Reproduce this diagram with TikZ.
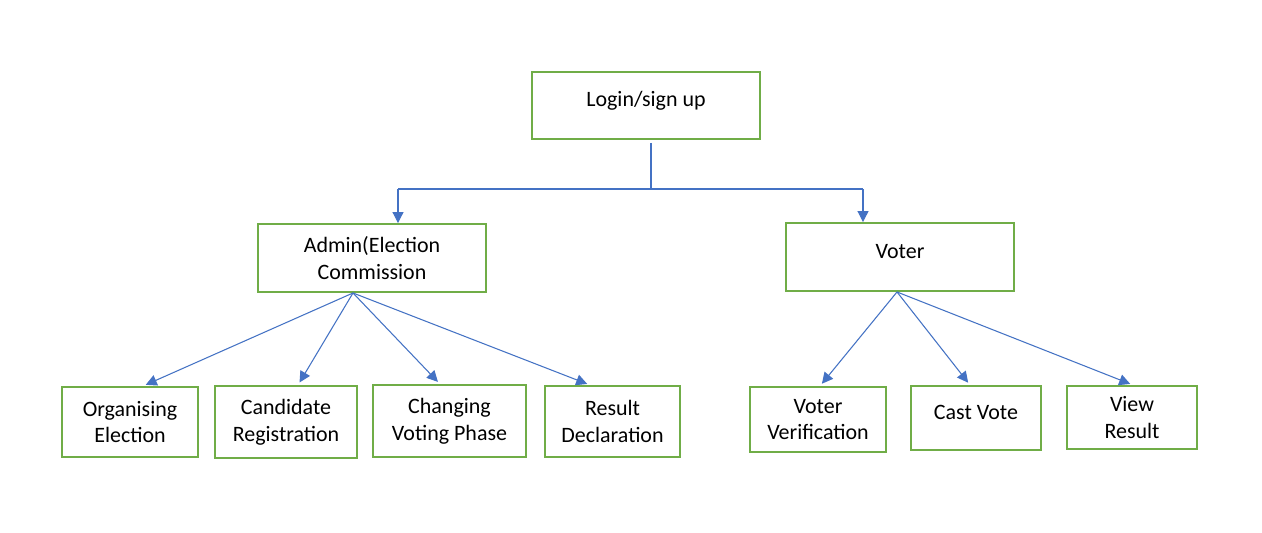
\documentclass[tikz,border=0pt]{standalone}
\usepackage{fontspec}
\setmainfont{Carlito}
\usetikzlibrary{arrows.meta}
\definecolor{myboxcolor}{HTML}{70AD47}
\definecolor{mylinecolor}{HTML}{4472C4}
\tikzset{
  box/.style={draw=myboxcolor, line width=1.1pt, fill=white, rectangle, align=center, inner sep=0pt, font=\fontsize{12.5pt}{15.3pt}\selectfont},
  oneline/.style={text height=8pt, text depth=6.4pt},
  link/.style={draw=mylinecolor, line width=0.6pt},
  arrow/.style={link, -{Triangle[length=0.22cm, width=0.22cm]}, shorten >=0.06cm}
}
\begin{document}
\begin{tikzpicture}%
\fill[white] (0,0) rectangle (25.24,-10.64);%
\useasboundingbox (0,0) rectangle (25.24,-10.64);%
\node[box, oneline, minimum width=4.56cm, minimum height=1.34cm] (login) at (12.92, -2.11) {Login/sign up};%
\node[box, minimum width=4.56cm, minimum height=1.36cm] (admin) at (7.44, -5.16) {Admin(Election\\Commission};%
\node[box, oneline, minimum width=4.56cm, minimum height=1.36cm] (voter) at (18.00, -5.14) {Voter};%
\node[box, minimum width=2.72cm, minimum height=1.40cm] (organise) at (2.60, -8.44) {Organising\\Election};%
\node[box, minimum width=2.84cm, minimum height=1.44cm] (candidate) at (5.72, -8.44) {Candidate\\Registration};%
\node[box, minimum width=3.06cm, minimum height=1.44cm] (phase) at (8.99, -8.42) {Changing\\Voting Phase};%
\node[box, minimum width=2.70cm, minimum height=1.42cm] (declare) at (12.25, -8.43) {Result\\Declaration};%
\node[box, minimum width=2.72cm, minimum height=1.30cm] (verify) at (16.36, -8.39) {Voter\\Verification};%
\node[box, oneline, minimum width=2.60cm, minimum height=1.28cm] (cast) at (19.52, -8.36) {Cast Vote};%
\node[box, minimum width=2.60cm, minimum height=1.26cm] (view) at (22.64, -8.35) {View\\Result};%
% split under login
\coordinate (split) at (13.02, -3.78);%
\coordinate (branchL) at (7.96, -3.78);%
\coordinate (branchR) at (17.26, -3.78);%
\draw[link] ([yshift=-0.06cm]login.south -| split) -- (split);%
\draw[link] (branchL) -- (branchR);%
\draw[arrow, shorten >=0pt] (branchL) -- (branchL |- admin.north);%
\draw[arrow, shorten >=0pt] (branchR) -- (branchR |- voter.north);%
% admin fan
\coordinate (adminfoot) at ([xshift=-0.38cm]admin.south);%
\draw[arrow] (adminfoot) -- ([xshift=0.26cm]organise.north);%
\draw[arrow] (adminfoot) -- ([xshift=0.24cm]candidate.north);%
\draw[arrow] (adminfoot) -- ([xshift=-0.19cm]phase.north);%
\draw[arrow] (adminfoot) -- ([xshift=-0.45cm]declare.north);%
% voter fan
\coordinate (voterfoot) at ([xshift=-0.06cm]voter.south);%
\draw[arrow] (voterfoot) -- ([xshift=0.04cm]verify.north);%
\draw[arrow] (voterfoot) -- ([xshift=-0.12cm]cast.north);%
\draw[arrow] (voterfoot) -- ([xshift=0.02cm]view.north);%
\end{tikzpicture}
\end{document}
